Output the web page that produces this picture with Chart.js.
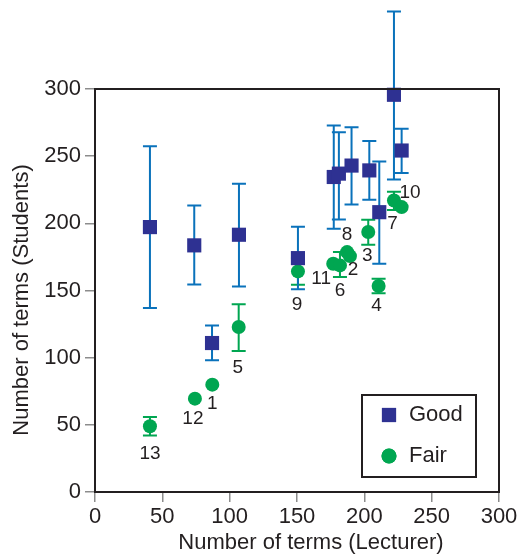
<!DOCTYPE html>
<html>
<head>
<meta charset="utf-8">
<script src="https://cdn.jsdelivr.net/npm/chart.js@4/dist/chart.umd.min.js"></script>
<style>
  body { margin: 0; background: #fff; }
</style>
</head>
<body>
<canvas id="chart" width="517" height="558"></canvas>
<script>
// Good: lecturer terms, student terms, error low / high
const goodX = [40.8, 73.7, 86.9, 106.9, 150.7, 177.3, 181.1, 190.5, 203.7, 211.1, 222, 227.7];
const goodY = [197.2, 183.6, 110.9, 191.5, 174.1, 234.5, 237, 243, 239.4, 208.3, 295.7, 254.2];
const goodLow = [136.9, 154.5, 98, 153, 151, 196, 202.9, 214.1, 217.5, 170, 232.7, 237.4];
const goodHigh = [257.4, 213.3, 124, 229.5, 197.5, 272.8, 267.8, 271.5, 261.2, 246, 357.6, 270.4];

// Fair
const fairLabels = ['13', '12', '1', '5', '9', '11', '6', '8', '2', '3', '4', '10', '7'];
const fairX = [40.8, 74.2, 87.1, 106.7, 150.7, 176.9, 181.9, 187.2, 189.3, 202.9, 210.6, 222, 227.7];
const fairY = [48.9, 69.5, 79.9, 122.8, 164.2, 169.9, 168.7, 178.6, 175.6, 193.5, 153.3, 217, 212.1];
const fairLow = [42, null, null, 104.9, 154.3, null, 160, null, null, 184, 148, 210, null];
const fairHigh = [55.8, null, null, 139.7, 174, null, 178.6, null, null, 202.7, 158.8, 223.5, null];

const xTicks = [0, 50, 100, 150, 200, 250, 300];
const yTicks = [0, 50, 100, 150, 200, 250, 300];

// label offsets in px from the point
const labelOffsets = [[0, 27], [-2, 20], [0, 19], [-1, 41], [-1, 33], [-12, 15], [0, 25], [0, -17], [3, 14], [-1, 24], [-2, 20], [16, -8], [-9, 17]];

const ink = '#231f20';
const font = '"Liberation Sans", Arial, sans-serif';

const errorBars = {
    id: 'errorBars',
    beforeDatasetsDraw(chart) {
        const ctx = chart.ctx;
        const xs = chart.scales.x, ys = chart.scales.y;
        const sets = [
            { x: fairX, lo: fairLow, hi: fairHigh, color: '#00a651' },
            { x: goodX, lo: goodLow, hi: goodHigh, color: '#0a72bb' },
        ];
        ctx.save();
        ctx.lineWidth = 2;
        sets.forEach(s => {
            ctx.strokeStyle = s.color;
            s.x.forEach((xv, i) => {
                if (s.lo[i] == null) return;
                const px = xs.getPixelForValue(xv);
                const y1 = ys.getPixelForValue(s.lo[i]);
                const y2 = ys.getPixelForValue(s.hi[i]);
                ctx.beginPath();
                ctx.moveTo(px, y1); ctx.lineTo(px, y2);
                ctx.moveTo(px - 7, y1); ctx.lineTo(px + 7, y1);
                ctx.moveTo(px - 7, y2); ctx.lineTo(px + 7, y2);
                ctx.stroke();
            });
        });
        ctx.restore();
    }
};

const extras = {
    id: 'extras',
    afterDraw(chart) {
        const ctx = chart.ctx;
        const a = chart.chartArea;
        const xs = chart.scales.x, ys = chart.scales.y;
        ctx.save();
        // frame
        ctx.strokeStyle = ink;
        ctx.lineWidth = 2;
        ctx.strokeRect(a.left, a.top, a.right - a.left, a.bottom - a.top);

        // point labels
        ctx.fillStyle = ink;
        ctx.font = '19px ' + font;
        ctx.textAlign = 'center';
        ctx.textBaseline = 'middle';
        fairLabels.forEach((t, i) => {
            const px = xs.getPixelForValue(fairX[i]) + labelOffsets[i][0];
            const py = ys.getPixelForValue(fairY[i]) + labelOffsets[i][1];
            ctx.fillText(t, px, py);
        });

        // axis titles
        ctx.font = '22px ' + font;
        ctx.fillText('Number of terms (Lecturer)', 311, 543);
        ctx.save();
        ctx.translate(22, 300);
        ctx.rotate(-Math.PI / 2);
        ctx.fillText('Number of terms (Students)', 0, 0);
        ctx.restore();

        // legend
        ctx.lineWidth = 2;
        ctx.strokeStyle = ink;
        ctx.strokeRect(362, 395, 114, 82);
        chart.data.datasets.forEach((ds, i) => {
            const ly = 415 + i * 41;
            ctx.fillStyle = ds.backgroundColor;
            Chart.helpers.drawPoint(ctx, { pointStyle: ds.pointStyle, radius: ds.pointStyle === 'rect' ? 10 : 7.5, rotation: 0 }, 389, ly);
            ctx.fill();
            ctx.fillStyle = ink;
            ctx.textAlign = 'left';
            ctx.fillText(ds.label, 409, ly);
        });
        ctx.restore();
    }
};

new Chart(document.getElementById('chart'), {
    type: 'scatter',
    data: {
        datasets: [
            {
                label: 'Good',
                data: goodX.map((x, i) => ({ x, y: goodY[i] })),
                pointStyle: 'rect',
                pointRadius: 10,
                backgroundColor: '#2e3192',
                borderWidth: 0,
                clip: false,
            },
            {
                label: 'Fair',
                data: fairX.map((x, i) => ({ x, y: fairY[i] })),
                pointStyle: 'circle',
                pointRadius: 7,
                backgroundColor: '#00a651',
                borderWidth: 0,
                clip: false,
            },
        ],
    },
    options: {
        responsive: false,
        animation: false,
        layout: { padding: { top: 89, right: 18, left: 0, bottom: 0 } },
        plugins: {
            legend: { display: false },
            tooltip: { enabled: false },
        },
        scales: {
            x: {
                type: 'linear',
                min: 0, max: 300,
                afterBuildTicks: s => { s.ticks = xTicks.map(v => ({ value: v })); },
                afterFit: s => { s.height = 66; s.paddingLeft = 0; s.paddingRight = 0; },
                grid: { drawOnChartArea: false, tickLength: 10, color: '#8c8c8c', lineWidth: 1.5 },
                border: { display: false },
                ticks: { color: ink, font: { family: font, size: 22 }, padding: 2, maxRotation: 0 },
            },
            y: {
                type: 'linear',
                min: 0, max: 300,
                afterBuildTicks: s => { s.ticks = yTicks.map(v => ({ value: v })); },
                afterFit: s => { s.width = 95; s.paddingTop = 0; s.paddingBottom = 0; },
                grid: { drawOnChartArea: false, tickLength: 10, color: '#8c8c8c', lineWidth: 1.5 },
                border: { display: false },
                ticks: { color: ink, font: { family: font, size: 22 }, padding: 4 },
            },
        },
    },
    plugins: [errorBars, extras],
});
</script>
</body>
</html>
